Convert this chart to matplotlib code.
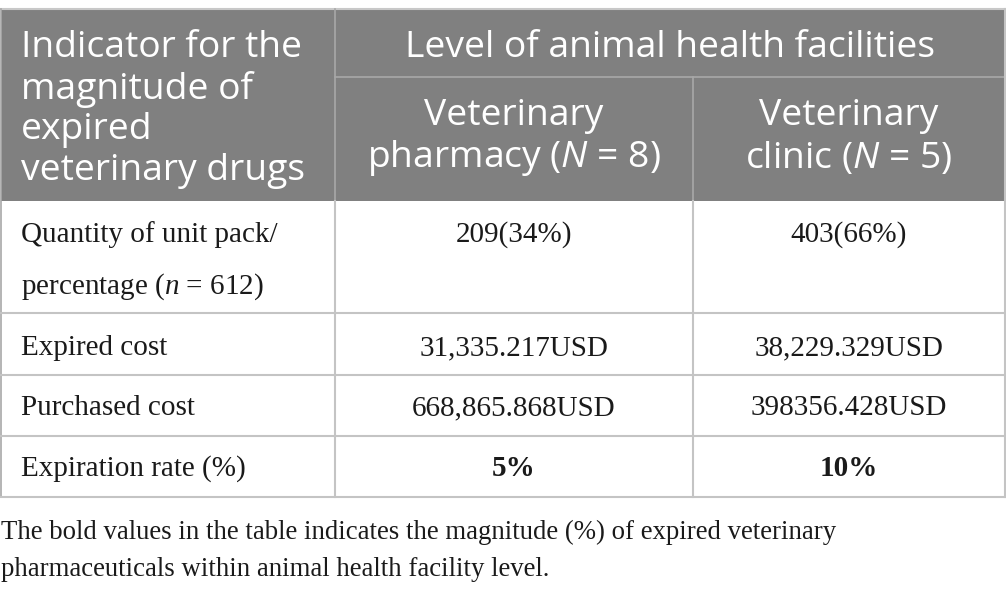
import matplotlib
matplotlib.use("Agg")
import matplotlib.pyplot as plt
from matplotlib.patches import Rectangle

plt.rcParams['mathtext.fontset'] = 'custom'
plt.rcParams['mathtext.it'] = 'Liberation Serif:italic'
plt.rcParams['mathtext.rm'] = 'Liberation Serif'
plt.rcParams['mathtext.sf'] = 'Open Sans:italic'

# ---- data ----
header_first = ["Indicator for the", "magnitude of", "expired", "veterinary drugs"]
header_group = "Level of animal health facilities"
col_pharmacy = ["Veterinary", r"pharmacy ($\mathsf{N}$ = 8)"]
col_clinic = ["Veterinary", r"clinic ($\mathsf{N}$ = 5)"]
row_labels = [["Quantity of unit pack/", r"percentage ($\mathit{n}$ = 612)"],
              ["Expired cost"], ["Purchased cost"], ["Expiration rate (%)"]]
pharmacy_vals = ["209(34%)", "31,335.217USD", "668,865.868USD", "5%"]
clinic_vals = ["403(66%)", "38,229.329USD", "398356.428USD", "10%"]
bold_row = [False, False, False, True]
footnote = ["The bold values in the table indicates the magnitude (%) of expired veterinary",
            "pharmaceuticals within animal health facility level."]

W, H = 1006, 591
fig = plt.figure(figsize=(W/100, H/100), dpi=100)
ax = fig.add_axes([0, 0, 1, 1])
ax.set_xlim(0, W)
ax.set_ylim(H, 0)
ax.axis('off')

HEAD_BG = '#808080'
x0, x1, x2, x3 = 0.5, 335, 693, 1005
y_top, y_sub, y_head = 9, 77, 201
row_bounds = [201, 313, 375, 436, 497]

ax.add_patch(Rectangle((x0, y_top), x3 - x0, y_head - y_top, facecolor=HEAD_BG, edgecolor='none'))

line_body = '#c4c4c4'
line_head = '#a8a8a8'
ax.plot([x0, x3], [y_top, y_top], color='#c8c8c8', lw=1.5)
ax.plot([x1, x1], [y_top, y_head], color=line_head, lw=1.2)
ax.plot([x1, x3], [y_sub, y_sub], color=line_head, lw=1.2)
ax.plot([x2, x2], [y_sub, y_head], color=line_head, lw=1.2)
ax.plot([x0, x0], [y_top, row_bounds[-1]], color=line_head, lw=1.2)
ax.plot([x3, x3], [y_top, row_bounds[-1]], color=line_body, lw=1.5)
for xv in (x1, x2):
    ax.plot([xv, xv], [y_head, row_bounds[-1]], color=line_body, lw=1.5)
for yv in row_bounds[1:]:
    ax.plot([x0, x3], [yv, yv], color=line_body, lw=1.5)

hfont = dict(family='Open Sans', fontsize=26.8, color='white')
for i, t in enumerate(header_first):
    ax.text(21, 48 + i * 41, t, ha='left', va='center', **hfont)
ax.text((x1 + x3) / 2, 48, header_group, ha='center', va='center', **hfont)
for i, t in enumerate(col_pharmacy):
    ax.text((x1 + x2) / 2, 116 + i * 42, t, ha='center', va='center', **hfont)
for i, t in enumerate(col_clinic):
    ax.text((x2 + x3) / 2, 116 + i * 42, t, ha='center', va='center', **hfont)

bfont = dict(family='Liberation Serif', fontsize=21, color='#1a1a1a')
row_centers = [235, 348, 408, 469]
for r, lines in enumerate(row_labels):
    yc = row_centers[r]
    for i, t in enumerate(lines):
        ax.text(21, yc + i * 52, t, ha='left', va='center', **bfont)
    w = 'bold' if bold_row[r] else 'normal'
    ax.text((x1 + x2) / 2, yc, pharmacy_vals[r], ha='center', va='center', fontweight=w, **bfont)
    ax.text((x2 + x3) / 2, yc, clinic_vals[r], ha='center', va='center', fontweight=w, **bfont)

ffont = dict(family='Liberation Serif', fontsize=19.3, color='#1a1a1a')
for i, t in enumerate(footnote):
    ax.text(1, 532 + i * 37, t, ha='left', va='center', **ffont)

fig.savefig('out.png', dpi=100)
